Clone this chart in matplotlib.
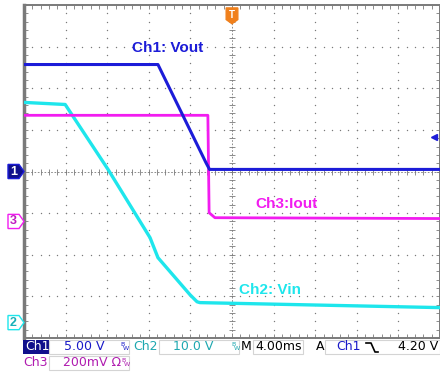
import numpy as np
import matplotlib as mpl
import matplotlib.pyplot as plt
from matplotlib.patches import Polygon, Rectangle

mpl.rcParams['font.family'] = ['Liberation Sans', 'DejaVu Sans']

W, H = 440, 373

# --- traces (x in divisions from left edge, y in divisions from screen centre)

ch1_x = [0.0, 3.22, 4.38, 4.46, 10.0]
ch1_y = [2.57, 2.57, 0.2, 0.05, 0.05]

ch3_x = [0.0, 4.42, 4.45, 4.59, 10.0]
ch3_y = [1.35, 1.35, -0.99, -1.11, -1.13]

ch2_x = [0.0, 0.99, 2.02, 3.03, 3.22, 3.99, 4.16, 4.23, 10.0]
ch2_y = [1.66, 1.61, 0.05, -1.59, -2.07, -2.96, -3.13, -3.15, -3.27]

# channel ground markers (divisions) and trigger level
ground = {'1': 0.0, '3': -1.2, '2': -3.63}
trig_level = 0.84

c_blue = '#1c1cd8'
c_mag = '#f21cf0'
c_cyan = '#1ee6ec'
c_grid = '#7a7a7a'


def px(x, y):
    return x / W, 1 - y / H


fig = plt.figure(figsize=(W / 100, H / 100), dpi=100)
fig.patch.set_facecolor('white')

left, right, top, bottom = 24, 440, 5, 338
ax = fig.add_axes((left / W, 1 - bottom / H, (right - left) / W, (bottom - top) / H))
ax.set_xlim(0, 10)
ax.set_ylim(-4, 4)

# --- graticule

minor = np.arange(0, 10.01, 0.2)
minor_y = np.arange(-4, 4.01, 0.2)
for gx in range(1, 10):
    if gx == 5:
        continue
    ax.scatter(np.full(len(minor_y), gx), minor_y, s=1.0, c=c_grid, lw=0, zorder=1)
for gy in range(-3, 4):
    if gy == 0:
        continue
    ax.scatter(minor, np.full(len(minor), gy), s=1.0, c=c_grid, lw=0, zorder=1)

ax.axhline(0, color=c_grid, lw=0.6, ls=(0, (2, 2)), zorder=1)
ax.axvline(5, color=c_grid, lw=0.6, ls=(0, (2, 2)), zorder=1)
ax.plot(minor, np.zeros(len(minor)), ls='none', marker='|', ms=4, mew=0.6, color=c_grid, zorder=1)
ax.plot(np.full(len(minor_y), 5), minor_y, ls='none', marker='_', ms=4, mew=0.6, color=c_grid, zorder=1)

ax.set_xticks(minor)
ax.set_yticks(minor_y)
ax.tick_params(direction='in', length=3, width=0.6, color=c_grid,
               top=True, right=True, labelbottom=False, labelleft=False)
for sp in ax.spines.values():
    sp.set_color('#7a7a7a')
    sp.set_linewidth(1.4)
ax.spines['left'].set_linewidth(2.5)

# --- traces

ax.plot(ch2_x, ch2_y, color=c_cyan, lw=2.4, zorder=3, solid_joinstyle='round')
ax.plot(ch3_x, ch3_y, color=c_mag, lw=2.0, zorder=4, solid_joinstyle='round')
ax.plot(ch1_x, ch1_y, color=c_blue, lw=2.2, zorder=5, solid_joinstyle='round')

ax.text(2.6, 2.96, 'Ch1: Vout', color=c_blue, fontsize=11, fontweight='bold', va='center')
ax.text(5.55, -0.79, 'Ch3:Iout', color=c_mag, fontsize=11, fontweight='bold', va='center')
ax.text(5.17, -2.84, 'Ch2: Vin', color=c_cyan, fontsize=11, fontweight='bold', va='center')

# --- channel markers on the left

tr = mpl.transforms.blended_transform_factory(ax.transAxes, ax.transData)
x0, x1, x2 = -16 / 416, -5 / 416, 0.0
hh = 0.17
styles = {'1': (c_blue, '#10108c', 'white'),
          '3': (c_mag, 'white', '#c01cc0'),
          '2': (c_cyan, 'white', '#18b0b8')}
for name, g in ground.items():
    edge, face, tcol = styles[name]
    poly = Polygon([(x0, g + hh), (x1, g + hh), (x2, g), (x1, g - hh), (x0, g - hh)],
                   closed=True, transform=tr, clip_on=False, fc=face, ec=edge, lw=1.0, zorder=6)
    ax.add_patch(poly)
    ax.text((x0 + x1) / 2, g, name, transform=tr, ha='center', va='center',
            color=tcol, fontsize=9, fontweight='bold', clip_on=False, zorder=7)

# trigger position marker at top and trigger level on right
ax.add_patch(Polygon([(4.86, 3.93), (5.14, 3.93), (5.14, 3.65), (5.0, 3.55), (4.86, 3.65)],
                     closed=True, fc='#f0801c', ec='#f0801c', zorder=6))
ax.text(5.0, 3.76, 'T', ha='center', va='center', color='white', fontsize=7, fontweight='bold', zorder=7)
ax.plot([9.86], [trig_level], marker='<', ms=5, color=c_blue, zorder=6)

# --- status bar

st_font = dict(family='DejaVu Sans', fontsize=9, va='center')
y1, y2 = 347, 363

fig.patches.append(Rectangle(px(23, 354), 26 / W, 14 / H, transform=fig.transFigure,
                             fc='#10108c', ec='none'))
for bx, bw in [(49, 80), (159, 80), (253, 50), (325, 115)]:
    fig.patches.append(Rectangle(px(bx, 354), bw / W, 14 / H, transform=fig.transFigure,
                                 fc='none', ec='#d4d4d4', lw=0.8))
fig.patches.append(Rectangle(px(49, 370), 80 / W, 14 / H, transform=fig.transFigure,
                             fc='none', ec='#d4d4d4', lw=0.8))

fig.text(*px(25, y1), 'Ch1', color='white', **st_font)
fig.text(*px(64, y1), '5.00 V', color='#1a1ac8', **st_font)
fig.text(*px(133, y1), 'Ch2', color='#1ea8b0', **st_font)
fig.text(*px(173, y1), '10.0 V', color='#1ea8b0', **st_font)
fig.text(*px(241, y1), 'M', color='black', **st_font)
fig.text(*px(255, y1), '4.00ms', color='black', **st_font)
fig.text(*px(316, y1), 'A', color='black', **st_font)
fig.text(*px(336, y1), 'Ch1', color='#1a1ac8', **st_font)
fig.text(*px(398, y1), '4.20 V', color='black', **st_font)
fig.text(*px(23, y2), 'Ch3', color='#b01cb0', **st_font)
fig.text(*px(63, y2), '200mV \u03a9', color='#b01cb0', **st_font)

# bandwidth-limit icons
for bx, by, col in [(120, y1, '#1a1ac8'), (231, y1, '#1ea8b0'), (121, y2, '#b01cb0')]:
    fig.text(*px(bx, by - 3), 'B', color=col, fontsize=4.5, family='DejaVu Sans', va='center')
    fig.text(*px(bx + 3, by + 2), 'W', color=col, fontsize=4.5, family='DejaVu Sans', va='center')

# falling edge icon
ex = [366 / W, 371 / W, 375 / W, 378 / W]
ey = [1 - 343 / H, 1 - 343 / H, 1 - 352 / H, 1 - 352 / H]
fig.add_artist(mpl.lines.Line2D(ex, ey, transform=fig.transFigure, color='black', lw=1.2))

fig.savefig('out.png', dpi=100)
